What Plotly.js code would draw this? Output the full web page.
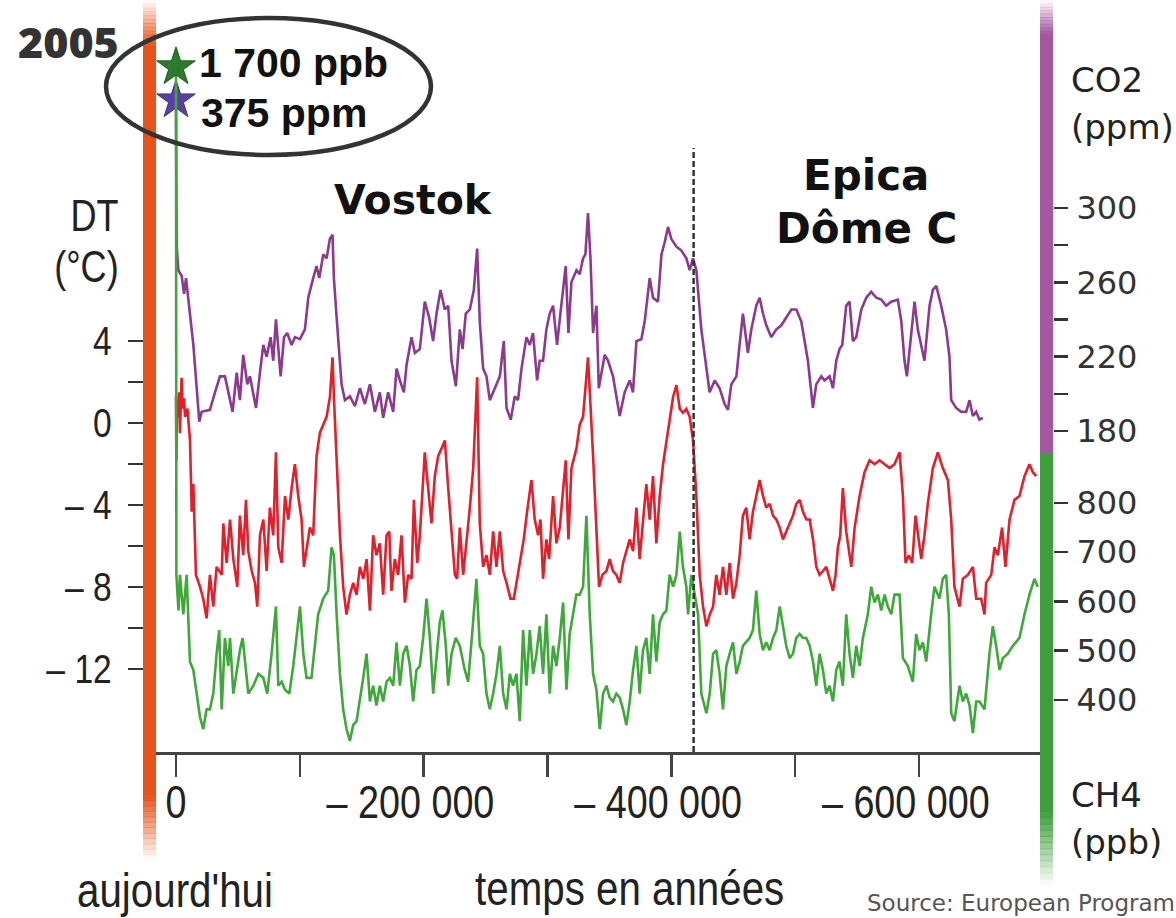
<!DOCTYPE html>
<html>
<head>
<meta charset="utf-8">
<script src="https://cdn.plot.ly/plotly-3.0.1.min.js"></script>
<style>html,body{margin:0;padding:0;background:#fff;}#chart{width:1176px;height:918px;}</style>
</head>
<body>
<div id="chart"></div>
<script>
// ---------------- DATA ----------------
// CO2 (ppm) — Vostok then Epica Dôme C
const co2Years = [0,-500,-1900,-4600,-6500,-8100,-14000,-18800,-20700,-27400,-31500,-35500,-39500,-42200,-45700,-49000,-51600,-54300,-57600,-59700,-64600,-67800,-70500,-73200,-76400,-78500,-80700,-84500,-87200,-89800,-93400,-96000,-100100,-104100,-106800,-110800,-113500,-115700,-118900,-121600,-124300,-126400,-127500,-129700,-133700,-136400,-140400,-144500,-148500,-152500,-156600,-160600,-164600,-167300,
-171300,-175400,-178100,-180800,-184000,-186200,-190200,-192900,-196900,-200900,-204400,-207600,-210400,-213600,-217100,-219800,-222500,-226000,-229200,-231400,-234000,-237300,-240500,-243200,-245300,-248000,-250700,-253400,-257400,-261500,-264700,-266900,-270300,-273600,-276200,-279000,-283000,-285700,-288300,-291600,-293700,-296400,-299100,-301800,-304500,-307700,-310400,-312600,-314700,-316900,-319300,-323400,-326000,-328700,-330600,-332700,-334700,-336800,-339500,-341400,-344300,
-346200,-348900,-352900,-358300,-362300,-366400,-369000,-371800,-375800,-378500,-382500,-385200,-389200,-392000,-394600,-397300,-400000,-404100,-408100,-412100,-414800,-417500,-420200,
-424200,-428300,-430900,-435000,-439000,-443000,-445700,-448400,-452500,-455100,-457800,-461800,-464600,-468600,-471300,-474000,-476700,-480700,-484800,-488800,-492800,-496900,-500900,-504900,-510300,-514300,-517000,-521100,
-523700,-527800,-530500,-533200,-535800,-538000,-541200,-543900,-546600,-549300,-553400,-557400,-561400,-565500,-569500,-573500,-577600,-582900,-585700,-588300,-590200,-593700,-596400,-599000,-601800,-604400,-608500,-611200,-613900,-617900,-621900,-624600,-626000,-630000,-634100,-638100,-640800,-643500,-646200,-648800,-651500];
const co2Values = [358,280,266.5,263.4,253.8,262.3,226.3,185.0,190.3,191.4,200.8,209.4,209.4,200.8,190.3,211.4,196.6,221.0,205.1,209.4,192.4,211.4,226.3,219.9,230.5,217.8,240.1,209.4,230.5,232.7,226.3,230.5,229.4,234.7,251.7,262.3,268.7,262.3,275.0,272.9,283.4,285.6,262.3,241.1,205.1,196.6,198.7,193.4,203.0,194.5,205.1,190.3,200.8,187.1,
200.8,190.3,213.6,207.2,200.8,215.7,230.5,222.0,224.1,249.6,241.1,228.4,243.2,255.9,245.4,247.4,217.8,204.1,234.7,224.1,243.2,245.4,255.9,278.2,239.0,213.6,209.4,196.6,203.0,209.4,228.4,192.4,186.1,198.7,196.6,213.6,230.5,226.3,232.7,207.2,217.8,217.8,234.7,243.2,247.4,226.3,243.2,255.9,268.7,232.7,260.2,266.5,264.4,272.9,275.0,297.3,272.9,232.7,247.4,203.0,213.6,
221.0,217.8,209.4,188.1,200.8,207.2,200.8,228.4,229.4,239.0,262.3,251.7,249.6,275.0,281.4,289.8,283.4,279.2,277.1,272.9,266.5,272.9,266.5,
234.7,213.6,200.8,207.2,203.0,194.5,191.4,205.1,209.4,226.3,243.2,222.0,234.7,247.4,251.7,243.2,236.9,230.5,234.7,236.9,241.1,245.4,245.4,239.0,217.8,192.4,205.1,209.4,
207.2,209.4,203.0,217.8,224.1,226.3,247.4,249.6,228.4,230.5,245.4,251.7,254.9,251.7,250.7,247.4,249.6,250.7,239.0,217.8,209.4,230.5,249.6,234.7,226.3,217.8,247.4,255.9,258.1,247.4,234.7,219.9,196.6,192.4,190.3,190.3,196.6,188.1,190.3,186.1,187.1];

// Temperature anomaly DT (°C)
const tempYears = [0,-300,-800,-1500,-2500,-3200,-4500,-5400,-6500,-7300,-9200,-11300,-12700,-14000,-16100,-19400,-22000,-24700,-27400,-30100,-32800,-36900,-38200,-40900,-43600,-46300,-49500,-51600,-54300,-56500,-58400,-61100,-63800,-65600,-67800,-70500,-73200,-75800,-78500,-80700,-82600,-85300,-88000,-90700,-93400,-96000,-98700,-101400,-103300,-105400,-108100,-110800,-113500,-116200,-118900,-121600,-124300,-126400,-127500,-129700,-132400,-135000,-137700,-140400,-143100,-145800,-148500,-151200,-153900,-156600,-159200,-161900,-164600,-167300,-170000,
-172200,-174000,-176700,-179400,-182100,-184800,-187500,-190200,-192100,-194800,-196900,-200900,-203600,-206300,-209000,-211700,-214400,-217100,-219800,-222500,-225200,-227000,-229200,-231900,-234600,-237300,-240000,-243200,-245300,-248000,-250700,-253400,-256100,-258800,-261500,-264200,-266900,-270100,-272800,-274900,-277600,-280800,-283500,-287000,-289700,-292400,-294300,-296400,-299100,-301300,-304500,-307200,-309900,-312600,-314700,-316900,-319300,-323400,-326000,-328700,-332700,-336800,-339500,-341600,-344300,-347600,
-350200,-352900,-355600,-358300,-361000,-363700,-366400,-369100,-371800,-374400,-377100,-379800,-382500,-385200,-387900,-390600,-393300,-396000,-398600,-401400,-404100,-406800,-409400,-412100,-414800,-417500,-420200,-422900,-425600,-428300,-431000,-433700,-436300,-439000,-441700,-444400,-447100,-449800,-452500,-455200,-457800,-460500,-463200,-465900,-468600,-471300,-474000,-476700,-479400,-482100,-484800,-487500,-490100,-492800,-495500,-498200,-500900,-503600,-506300,-509000,-511700,-514400,-517100,-519700,-522400,-525100,
-527800,-530500,-532600,-534500,-536400,-538500,-541200,-545300,-548000,-552000,-556000,-560100,-564100,-568100,-572200,-576200,-580200,-584300,-587000,-589100,-591800,-594500,-597200,-599300,-601800,-604400,-607100,-611200,-615200,-619200,-623300,-626000,-628600,-632700,-635400,-639400,-643500,-646200,-650200,-652900,-654200,-658300,-661000,-663600,-667100,-669800,-673100,-677100,-681100,-685200,-689200,-691900,-694600];
const tempValues = [1.3,-1.8,1.0,0.3,1.5,-0.5,2.2,0.7,1.2,0.3,0.7,-0.85,-4.33,-2.98,-7.41,-7.99,-8.57,-9.53,-7.41,-8.96,-7.02,-7.41,-4.90,-6.83,-4.71,-6.64,-7.99,-4.52,-6.45,-3.75,-6.25,-7.22,-7.80,-8.96,-5.48,-4.71,-7.22,-4.13,-5.48,-1.43,-6.06,-6.83,-3.56,-4.71,-3.17,-2.01,-3.56,-4.71,-7.02,-6.25,-5.10,-5.48,-1.62,-0.47,-0.08,0.30,1.27,3.20,1.27,-1.62,-5.48,-7.99,-9.34,-8.38,-7.80,-8.38,-7.02,-7.60,-6.64,-9.15,-5.48,-6.45,-5.87,-8.38,-5.48,
-5.29,-8.19,-6.64,-7.41,-5.48,-8.76,-7.41,-7.60,-3.75,-6.83,-5.48,-1.43,-3.17,-4.90,-2.59,-1.62,-1.24,-0.85,-3.17,-5.48,-7.41,-7.60,-5.10,-7.41,-5.87,-4.13,-2.20,2.23,-4.90,-7.02,-6.45,-7.41,-5.29,-7.02,-5.29,-7.22,-7.80,-8.57,-8.57,-7.80,-6.64,-5.68,-4.33,-2.78,-4.71,-5.48,-4.71,-7.60,-5.68,-6.64,-3.56,-5.87,-5.10,-3.17,-1.82,-5.68,-2.20,-1.24,-0.08,0.30,3.20,-1.62,-5.48,-7.99,-7.41,-7.22,
-6.64,-7.22,-7.41,-7.80,-6.83,-6.25,-5.68,-6.25,-4.13,-6.64,-4.71,-2.98,-4.71,-2.59,-5.87,-3.56,-2.01,-0.85,0.30,1.27,1.85,0.69,0.50,0.69,0.30,-0.85,-3.56,-7.41,-8.96,-9.92,-9.34,-8.96,-7.41,-8.38,-7.02,-8.38,-6.83,-8.57,-7.80,-6.45,-4.52,-4.13,-5.68,-4.33,-3.56,-2.78,-3.56,-4.13,-3.94,-4.52,-4.71,-5.10,-5.68,-5.29,-4.90,-4.52,-3.94,-3.75,-4.33,-4.71,-4.71,-5.68,-7.02,-7.41,-7.22,-7.02,
-7.60,-8.19,-7.41,-6.06,-5.48,-3.17,-5.29,-7.02,-5.10,-3.56,-2.40,-1.82,-2.01,-1.82,-2.01,-2.20,-2.01,-1.43,-3.56,-6.83,-6.45,-6.83,-4.52,-5.48,-6.64,-5.48,-3.94,-2.20,-1.43,-2.20,-2.78,-4.71,-7.99,-8.96,-7.60,-7.41,-7.02,-8.57,-8.57,-9.34,-7.80,-7.41,-6.06,-6.45,-5.10,-7.02,-4.71,-3.75,-3.56,-2.59,-2.01,-2.40,-2.59];

// CH4 (ppb)
const ch4Years = [0,-300,-2000,-3200,-5900,-8600,-11300,-14000,-16700,-19400,-22000,-24700,-27400,-30100,-32800,-34900,-36900,-39500,-42200,-43600,-46300,-49000,-51600,-53800,-56500,-58400,-62400,-66500,-70500,-73700,-77200,-80700,-82600,-85300,-88000,-91500,-94700,-97400,-100100,-102800,-105400,-109400,-112200,-114800,-118900,-122900,-125600,-127500,-129700,-132400,-135000,-137700,-140400,-143100,-145800,-148500,-151200,-153900,-156600,-159200,-161900,-164600,-167300,-170000,
-172700,-175400,-178100,-180800,-183500,-186200,-188900,-191500,-194200,-196900,-199600,-202300,-205000,-207700,-210400,-213000,-215200,-217900,-219800,-222500,-225900,-229200,-233200,-235900,-239400,-242600,-245300,-248000,-250700,-253400,-256100,-258800,-261500,-264200,-266900,-269600,-272200,-274900,-277600,-280300,-283000,-285700,-288400,-291100,-293700,-296400,-299100,-301800,-304500,-307200,-309900,-312600,-315300,-317900,-320600,-323300,-326000,-328700,-331400,-334100,-336800,-339500,-342200,-344900,-347600,
-350200,-352900,-355600,-358300,-361000,-363700,-366400,-369100,-371800,-374400,-377100,-379800,-382500,-385200,-387900,-390600,-393300,-396000,-398600,-401400,-404100,-406800,-409400,-412100,-413500,-416200,-418900,-421600,-424200,-428300,-431000,-433700,-436300,-439000,-441700,-444400,-447100,-449800,-452500,-455200,-457800,-460500,-463200,-465900,-468600,-471300,-474000,-476700,-479400,-482100,-484800,-487500,-490100,-492800,-495500,-498200,-500900,-503600,-506300,-509000,-511700,-514400,-517100,-519700,-522400,-525100,
-527800,-530500,-533200,-535800,-538500,-541200,-543900,-546600,-549300,-552000,-554700,-558700,-561400,-564100,-566800,-569500,-572200,-574800,-577600,-580200,-584300,-587000,-591000,-595000,-597700,-600400,-603100,-605800,-609800,-612500,-616500,-619200,-621900,-624100,-626000,-628600,-632700,-635400,-638100,-640800,-643500,-646200,-648800,-652900,-656900,-659600,-662300,-665000,-667700,-671700,-675800,-681100,-685200,-689200,-693200,-695900];
const ch4Values = [1685,654,582,654,574,654,477,461,413,365,341,381,381,413,494,542,381,526,469,526,413,461,501,526,461,413,429,453,445,413,494,590,429,437,421,413,469,534,590,494,445,445,510,574,606,622,710,694,574,453,381,341,317,349,357,397,445,494,397,429,389,429,397,437,
445,429,517,429,494,510,469,397,461,469,526,606,526,413,485,558,582,510,429,494,526,510,461,437,542,646,510,494,413,381,413,453,510,413,381,453,429,453,357,542,429,542,453,494,550,453,574,413,510,469,526,598,421,534,574,614,614,630,774,574,453,421,341,413,429,
405,397,413,405,381,349,397,461,510,413,501,526,453,574,478,558,574,582,654,630,654,742,670,630,574,654,614,574,413,373,413,494,501,453,381,469,494,517,453,478,510,517,526,542,622,534,501,517,501,526,542,590,550,510,485,494,526,534,526,526,510,478,429,494,461,413,
429,397,461,478,429,574,494,445,510,469,526,574,630,598,614,582,614,590,574,614,614,485,469,437,534,501,517,478,574,630,606,646,654,574,373,357,429,397,413,389,333,397,397,381,494,550,510,461,485,494,510,526,574,614,646,630];

// 2005 values shown by the stars
const starYear = [0];
const starCH4 = [1685];   // "1 700 ppb"
const starCO2 = [358];    // "375 ppm"
const vostokEnd = -418000;

// Axis ticks / labels
const xTickVals = [0,-100000,-200000,-300000,-400000,-500000,-600000];
const xTickText = ['0','','\u2013 200 000\u2002\u2009','','\u2013 400 000\u2002\u2009','','\u2013 600 000\u2002\u2009'];
const tTickVals = [4,2,0,-2,-4,-6,-8,-10,-12];
const tTickText = ['4','','0','','\u2013 4','','\u2013 8','','\u2013 12'];
const co2TickVals = [180,200,220,240,260,280,300];
const co2TickText = ['180','','220','','260','','300'];
const ch4TickVals = [400,500,600,700,800];
const ch4TickText = ['400','500','600','700','800'];

// ---------------- LAYOUT helpers (pixel -> paper) ----------------
const L = 143, R = 1053, TOP = 0, BOT = 752;
const px = x => (x - L) / (R - L);
const py = y => (BOT - y) / (BOT - TOP);
const SANS = '"Liberation Sans", Arial, sans-serif';
const WIDE = '"DejaVu Sans", sans-serif';

const ORANGE = '#E8521B', PURPLE_BAR = '#A2579F', GREEN_BAR = '#3E9E3C';

function rect(x0, x1, y0, y1, color, op) {
  return {type:'rect', xref:'paper', yref:'paper', x0:px(x0), x1:px(x1), y0:py(y1), y1:py(y0),
          fillcolor:color, opacity:op, line:{width:0}, layer:'above'};
}
function fade(x0, x1, yA, yB, color, steps) { // opacity goes from ~0 at yA to ~1 at yB
  const out = [];
  const h = (yB - yA) / steps;
  for (let i = 0; i < steps; i++) {
    const ya = yA + i*h, yb = yA + (i+1)*h;
    out.push(rect(x0, x1, Math.min(ya,yb), Math.max(ya,yb)+0.6, color, (i+0.5)/steps));
  }
  return out;
}

const shapes = [
  ...fade(143, 156, 0, 46, ORANGE, 12),
  rect(143, 156, 46, 795, ORANGE, 1),
  ...fade(143, 156, 860, 795, ORANGE, 12),
  ...fade(1040, 1053, 0, 34, PURPLE_BAR, 10),
  rect(1040, 1053, 34, 453, PURPLE_BAR, 1),
  rect(1040, 1053, 453, 812, GREEN_BAR, 1),
  ...fade(1040, 1053, 885, 812, GREEN_BAR, 12),
  {type:'line', xref:'x', yref:'paper', x0:vostokEnd, x1:vostokEnd, y0:0, y1:py(148),
   line:{color:'#333', width:2.5, dash:'6px,3px'}, layer:'above'},
  {type:'circle', xref:'paper', yref:'paper', x0:px(106), x1:px(431), y0:py(155), y1:py(18),
   line:{color:'#333', width:4.5}, fillcolor:'rgba(0,0,0,0)', layer:'above'}
];

function ann(text, x, y, font, xanchor, yanchor) {
  return {text, xref:'paper', yref:'paper', x:px(x), y:py(y), showarrow:false,
          xanchor:xanchor||'left', yanchor:yanchor||'middle', font};
}
const annotations = [
  ann('2005', 16, 41, {family:'"Open Sans", sans-serif', size:43, weight:800, color:'#333'}),
  ann('1 700 ppb', 197, 63, {family:SANS, size:41, weight:700, color:'#111'}),
  ann('375 ppm', 199, 113, {family:SANS, size:41, weight:700, color:'#111'}),
  ann('DT', 121, 215, {family:SANS, size:44, color:'#222'}, 'right'),
  ann('(°C)', 121, 267, {family:SANS, size:44, color:'#222'}, 'right'),
  ann('Vostok', 413, 200, {family:WIDE, size:41, weight:700, color:'#111'}, 'center'),
  ann('Epica', 866, 175, {family:WIDE, size:42, weight:700, color:'#111'}, 'center'),
  ann('Dôme C', 866, 228, {family:WIDE, size:42, weight:700, color:'#111'}, 'center'),
  ann('CO2', 1069, 80, {family:WIDE, size:34, color:'#222'}),
  ann('(ppm)', 1069, 127, {family:WIDE, size:34, color:'#222'}),
  ann('CH4', 1069, 795, {family:WIDE, size:34, color:'#222'}),
  ann('(ppb)', 1069, 842, {family:WIDE, size:34, color:'#222'}),
  ann("aujourd'hui", 75, 890, {family:SANS, size:48, color:'#222'}),
  ann('temps en années', 473, 888, {family:SANS, size:48, color:'#222'}),
  ann('Source: European Program', 865, 903, {family:WIDE, size:23, color:'#555'})
];

const traces = [
  {x:ch4Years, y:ch4Values, yaxis:'y3', type:'scatter', mode:'lines', line:{color:'#3FA83A', width:2.6}, hoverinfo:'skip'},
  {x:tempYears, y:tempValues, yaxis:'y', type:'scatter', mode:'lines', line:{color:'#E2202C', width:2.6}, hoverinfo:'skip'},
  {x:co2Years, y:co2Values, yaxis:'y2', type:'scatter', mode:'lines', line:{color:'#8C3A8E', width:2.6}, hoverinfo:'skip'},
  {x:starYear, y:starCH4, yaxis:'y3', type:'scatter', mode:'markers', marker:{symbol:'star', size:29, color:'#2C7A2C', line:{color:'#1F5A1F', width:1}}, hoverinfo:'skip'},
  {x:starYear, y:starCO2, yaxis:'y2', type:'scatter', mode:'markers', marker:{symbol:'star', size:29, color:'#5B3FA3', line:{color:'#40307A', width:1}}, hoverinfo:'skip'}
];

const layout = {
  width:1176, height:918,
  margin:{l:L, r:1176-R, t:TOP, b:918-BOT, pad:0},
  paper_bgcolor:'#ffffff', plot_bgcolor:'rgba(0,0,0,0)',
  showlegend:false,
  xaxis:{domain:[0, px(1040)], range:[26650, -697700], tickmode:'array', tickvals:xTickVals, ticktext:xTickText,
         ticks:'outside', ticklen:22, tickwidth:2.5, tickcolor:'#444', showline:true, linecolor:'#444', linewidth:2.5,
         showgrid:false, zeroline:false, tickfont:{family:SANS, size:46, color:'#222'}, ticklabelstandoff:-14},
  yaxis:{range:[-16.049, 20.634], anchor:'free', position:0, side:'left', tickmode:'array', tickvals:tTickVals, ticktext:tTickText,
         ticks:'outside', ticklen:15, tickwidth:2.5, tickcolor:'#333', showline:false, showgrid:false, zeroline:false,
         tickfont:{family:SANS, size:41, color:'#222'}, ticklabelstandoff:8},
  yaxis2:{range:[7.26, 411.93], overlaying:'y', anchor:'free', position:1, side:'right', tickmode:'array', tickvals:co2TickVals, ticktext:co2TickText,
          ticks:'outside', ticklen:14, tickwidth:2.5, tickcolor:'#333', showline:false, showgrid:false, zeroline:false,
          tickfont:{family:WIDE, size:32, color:'#333'}, ticklabelstandoff:2},
  yaxis3:{range:[294.4, 1821.3], overlaying:'y', anchor:'free', position:1, side:'right', tickmode:'array', tickvals:ch4TickVals, ticktext:ch4TickText,
          ticks:'outside', ticklen:14, tickwidth:2.5, tickcolor:'#333', showline:false, showgrid:false, zeroline:false,
          tickfont:{family:WIDE, size:32, color:'#333'}, ticklabelstandoff:2},
  shapes, annotations
};

// Narrow (condensed) look of the original lettering: squeeze text horizontally, keeping it real text.
function condense(el, s, anchor) {
  const bb = el.getBBox();
  const ax = anchor === 'left' ? bb.x : anchor === 'right' ? bb.x + bb.width : bb.x + bb.width / 2;
  const prev = el.getAttribute('transform') || '';
  el.setAttribute('transform', prev + ' translate(' + ax + ',0) scale(' + s + ',1) translate(' + (-ax) + ',0)');
}

Plotly.newPlot('chart', traces, layout, {displayModeBar:false, staticPlot:true}).then(function () {
  document.querySelectorAll('#chart .xtick text').forEach(t => condense(t, 0.82, 'center'));
  document.querySelectorAll('#chart .ytick text').forEach(t => condense(t, 0.82, 'right'));
  document.querySelectorAll('#chart .annotation-text').forEach(t => {
    const s = t.textContent;
    if (s === 'DT' || s === '(°C)') condense(t, 0.82, 'right');
    if (s === "aujourd'hui" || s === 'temps en années') condense(t, 0.84, 'left');
  });
});
</script>
</body>
</html>
